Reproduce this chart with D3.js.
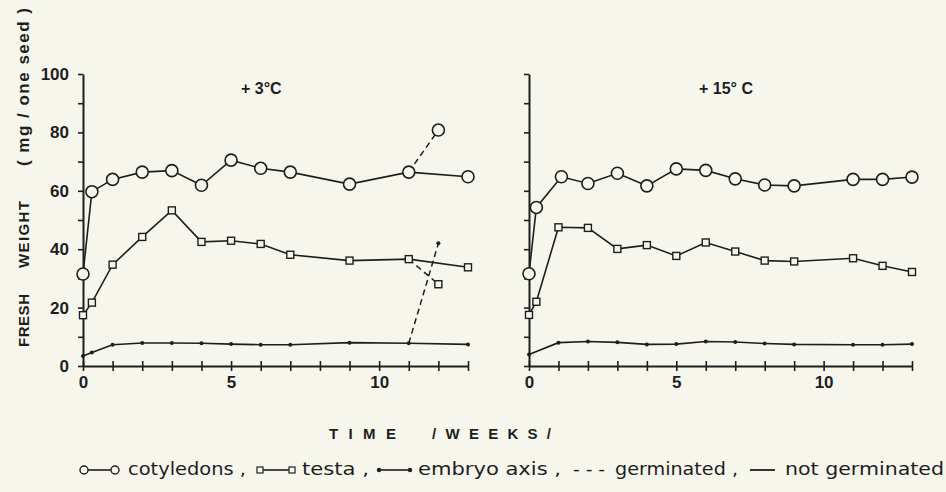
<!DOCTYPE html>
<html>
<head>
<meta charset="utf-8">
<script src="https://cdn.jsdelivr.net/npm/d3@7"></script>
<style>
  body { margin: 0; background: #f7f6ed; }
  svg { display: block; }
</style>
</head>
<body>
<svg width="946" height="492"></svg>
<script>
// + 3 C panel
var weeksA = [0, 0.3, 1, 2, 3, 4, 5, 6, 7, 9, 11, 13];
var cotA = [31.5, 59.7, 63.9, 66.4, 66.9, 61.9, 70.5, 67.7, 66.4, 62.3, 66.4, 64.8];
var testaA = [17.4, 21.7, 34.7, 44.2, 53.3, 42.5, 42.9, 41.8, 38.1, 36.1, 36.6, 33.8];
var embryoA = [3.4, 4.6, 7.3, 7.9, 7.9, 7.8, 7.5, 7.3, 7.3, 8.0, 7.8, 7.4];
// germinated seeds (dashed), weeks 11 -> 12
var weeksGermA = [11, 12];
var cotGermA = [66.4, 80.8];
var testaGermA = [36.6, 28.0];
var embryoGermA = [7.8, 42.0];

// + 15 C panel
var weeksCotB = [0, 0.25, 1.1, 2, 3, 4, 5, 6, 7, 8, 9, 11, 12, 13];
var cotB = [31.6, 54.3, 64.8, 62.5, 66.0, 61.7, 67.5, 67.0, 64.1, 62.0, 61.7, 63.9, 63.9, 64.7];
var weeksTestaB = [0, 0.25, 1, 2, 3, 4, 5, 6, 7, 8, 9, 11, 12, 13];
var testaB = [17.5, 22.0, 47.5, 47.3, 40.1, 41.4, 37.7, 42.3, 39.2, 36.1, 35.8, 36.9, 34.3, 32.2];
var weeksEmbryoB = [0, 1, 2, 3, 4, 5, 6, 7, 8, 9, 11, 12, 13];
var embryoB = [3.9, 8.0, 8.4, 8.1, 7.4, 7.5, 8.4, 8.2, 7.7, 7.4, 7.3, 7.3, 7.5];

var yTickLabels = [0, 20, 40, 60, 80, 100];
var xTickLabels = [0, 5, 10];

var ink = "#1e1e1e";
var bg = "#f7f6ed";
var sans = "Liberation Sans, Arial, sans-serif";
var svg = d3.select("svg");
var y = d3.scaleLinear().domain([0, 100]).range([366, 74]);

function zip(xs, ys) {
  return xs.map(function(v, i) { return [v, ys[i]]; });
}

function panel(x0, x1, title, titleX, series, germ, showYLabels) {
  var x = d3.scaleLinear().domain([0, 13]).range([x0, x1]);
  var g = svg.append("g");

  // y axis: ticks every 10, pointing out
  var yAxis = d3.axisLeft(y).tickValues(d3.range(0, 101, 10)).tickSize(5).tickSizeOuter(0)
    .tickFormat(function(d) { return showYLabels && yTickLabels.indexOf(d) >= 0 ? d : ""; });
  var ya = g.append("g").attr("transform", "translate(" + x0 + ",0)").call(yAxis);
  ya.select(".domain").attr("stroke", ink).attr("stroke-width", 2);
  ya.selectAll(".tick line").attr("stroke", ink).attr("stroke-width", 1.6);
  ya.selectAll("text").attr("x", -14).attr("font-family", sans)
    .attr("font-weight", "bold").attr("font-size", 17).attr("fill", ink);

  // x axis: ticks every week, crossing the line
  var xAxis = d3.axisBottom(x).tickValues(d3.range(0, 14, 1)).tickSize(5).tickSizeOuter(0)
    .tickFormat(function(d) { return xTickLabels.indexOf(d) >= 0 ? d : ""; });
  var xa = g.append("g").attr("transform", "translate(0," + y(0) + ")").call(xAxis);
  xa.select(".domain").attr("stroke", ink).attr("stroke-width", 2.2);
  xa.selectAll(".tick line").attr("y1", -5).attr("stroke", ink).attr("stroke-width", 1.6);
  xa.selectAll("text").attr("y", 10).attr("font-family", sans)
    .attr("font-weight", "bold").attr("font-size", 17).attr("fill", ink);

  g.append("text").attr("x", titleX).attr("y", 94)
    .attr("font-family", sans).attr("font-weight", "bold")
    .attr("font-size", 16).attr("fill", ink).text(title);

  var line = d3.line().x(function(d) { return x(d[0]); }).y(function(d) { return y(d[1]); });

  germ.forEach(function(pts) {
    g.append("path").datum(pts).attr("d", line).attr("fill", "none")
      .attr("stroke", ink).attr("stroke-width", 1.5).attr("stroke-dasharray", "6,4");
  });

  series.forEach(function(s) {
    g.append("path").datum(s.pts).attr("d", line).attr("fill", "none")
      .attr("stroke", ink).attr("stroke-width", 1.6);
  });

  // markers
  series.concat(germ.map(function(p, i) { return { pts: p.slice(1), kind: ["circle", "square", "dot"][i] }; }))
    .forEach(function(s) {
      s.pts.forEach(function(p) {
        if (s.kind === "circle") {
          g.append("circle").attr("cx", x(p[0])).attr("cy", y(p[1])).attr("r", 6)
            .attr("fill", bg).attr("stroke", ink).attr("stroke-width", 1.6);
        } else if (s.kind === "square") {
          g.append("rect").attr("x", x(p[0]) - 3.5).attr("y", y(p[1]) - 3.5)
            .attr("width", 7).attr("height", 7)
            .attr("fill", bg).attr("stroke", ink).attr("stroke-width", 1.4);
        } else {
          g.append("circle").attr("cx", x(p[0])).attr("cy", y(p[1])).attr("r", 2)
            .attr("fill", ink);
        }
      });
    });
}

panel(83, 468, "+ 3°C", 241, [
  { pts: zip(weeksA, embryoA), kind: "dot" },
  { pts: zip(weeksA, testaA), kind: "square" },
  { pts: zip(weeksA, cotA), kind: "circle" }
], [zip(weeksGermA, cotGermA), zip(weeksGermA, testaGermA), zip(weeksGermA, embryoGermA)], true);

panel(529, 912, "+ 15° C", 699, [
  { pts: zip(weeksEmbryoB, embryoB), kind: "dot" },
  { pts: zip(weeksTestaB, testaB), kind: "square" },
  { pts: zip(weeksCotB, cotB), kind: "circle" }
], [], false);

// y axis title, in three pieces
var yTitle = [
  { t: "FRESH", y0: 347, y1: 294, w: "bold", s: 15 },
  { t: "WEIGHT", y0: 268, y1: 201, w: "bold", s: 15 },
  { t: "( mg / one seed )", y0: 166, y1: 8, w: "bold", s: 17 }
];
yTitle.forEach(function(d) {
  svg.append("text")
    .attr("transform", "translate(29," + d.y0 + ") rotate(-90)")
    .attr("font-family", sans).attr("font-weight", d.w)
    .attr("font-size", d.s).attr("fill", ink)
    .attr("textLength", d.y0 - d.y1).attr("lengthAdjust", "spacing")
    .text(d.t);
});

// x axis title
[{ t: "TIME", x0: 329, x1: 396 }, { t: "/WEEKS/", x0: 432, x1: 551 }].forEach(function(d) {
  svg.append("text").attr("x", d.x0).attr("y", 439)
    .attr("font-family", sans).attr("font-weight", "bold")
    .attr("font-size", 15).attr("fill", ink)
    .attr("textLength", d.x1 - d.x0).attr("lengthAdjust", "spacing")
    .text(d.t);
});

// legend
var legendY = 475;
var legendFont = "DejaVu Sans Condensed, DejaVu Sans, sans-serif";
var legendText = [
  { t: "cotyledons ,", x0: 128, x1: 246 },
  { t: "testa ,", x0: 302, x1: 369 },
  { t: "embryo axis ,", x0: 418, x1: 561 },
  { t: "- - -", x0: 573, x1: 605 },
  { t: "germinated ,", x0: 615, x1: 738 },
  { t: "not germinated", x0: 785, x1: 944 }
];
legendText.forEach(function(d) {
  svg.append("text").attr("x", d.x0).attr("y", legendY)
    .attr("font-family", legendFont).attr("font-size", 18).attr("fill", ink)
    .attr("textLength", d.x1 - d.x0).attr("lengthAdjust", "spacingAndGlyphs")
    .text(d.t);
});
var ly = legendY - 5;
// circle symbol
svg.append("line").attr("x1", 84).attr("x2", 114).attr("y1", ly).attr("y2", ly).attr("stroke", ink).attr("stroke-width", 1.6);
[84, 115].forEach(function(cx) {
  svg.append("circle").attr("cx", cx).attr("cy", ly).attr("r", 4).attr("fill", bg).attr("stroke", ink).attr("stroke-width", 1.4);
});
// square symbol
svg.append("line").attr("x1", 260).attr("x2", 292).attr("y1", ly).attr("y2", ly).attr("stroke", ink).attr("stroke-width", 1.6);
[260, 292].forEach(function(cx) {
  svg.append("rect").attr("x", cx - 3).attr("y", ly - 3).attr("width", 6).attr("height", 6).attr("fill", bg).attr("stroke", ink).attr("stroke-width", 1.2);
});
// dot symbol
svg.append("line").attr("x1", 379).attr("x2", 410).attr("y1", ly).attr("y2", ly).attr("stroke", ink).attr("stroke-width", 1.6);
[379, 410].forEach(function(cx) {
  svg.append("circle").attr("cx", cx).attr("cy", ly).attr("r", 2.2).attr("fill", ink);
});
// solid line symbol
svg.append("line").attr("x1", 750).attr("x2", 775).attr("y1", ly).attr("y2", ly).attr("stroke", ink).attr("stroke-width", 1.8);
</script>
</body>
</html>
